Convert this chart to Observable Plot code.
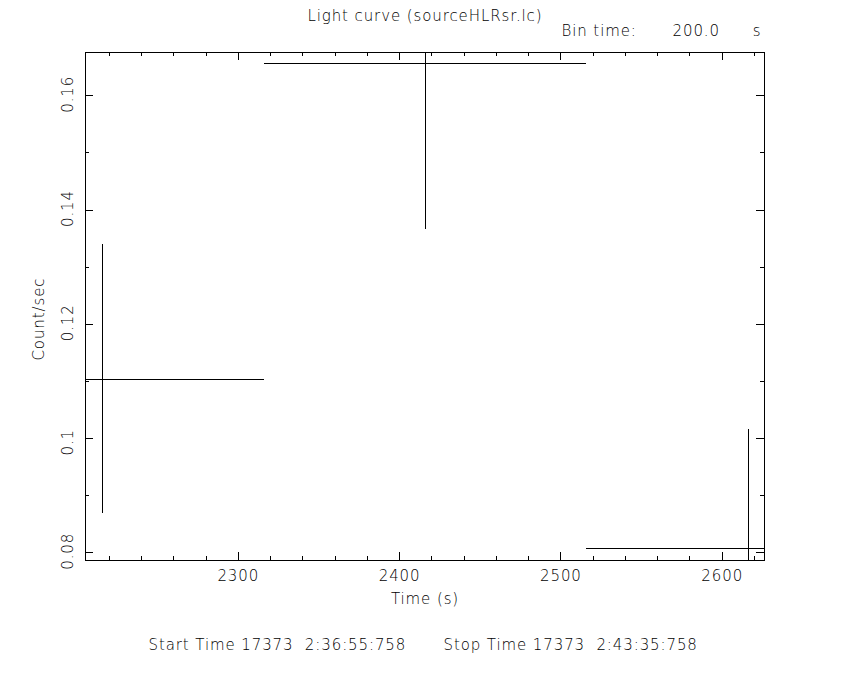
<!DOCTYPE html>
<html>
<head>
<meta charset="utf-8">
<script src="https://cdn.jsdelivr.net/npm/d3@7"></script>
<script src="https://cdn.jsdelivr.net/npm/@observablehq/plot@0.6"></script>
<style>
  html, body { margin: 0; padding: 0; background: #fff; }
  svg text { white-space: pre; }
</style>
</head>
<body>
<div id="chart"></div>
<script>
// ---- data ----
const binTime = [2216, 2416, 2616];        // bin centres (s)
const rate = [0.1104, 0.1656, 0.0807];     // count/sec
const rateErr = [0.0235, 0.0290, 0.0209];  // 1-sigma errors
const binHalfWidth = 100;                  // bin time 200.0 s

const xMajor = [2300, 2400, 2500, 2600];
const xMajorLabels = ["2300", "2400", "2500", "2600"];
const xMinor = [2220, 2240, 2260, 2280, 2320, 2340, 2360, 2380, 2420, 2440, 2460, 2480, 2520, 2540, 2560, 2580, 2620];
const yMajor = [0.08, 0.10, 0.12, 0.14, 0.16];
const yMajorLabels = ["0.08", "0.1", "0.12", "0.14", "0.16"];
const yMinor = [0.09, 0.11, 0.13, 0.15];

const xDomain = [2205.3, 2626.2];
const yDomain = [0.07865, 0.16758];

const title = "Light curve (sourceHLRsr.lc)";
const xLabel = "Time (s)";
const yLabel = "Count/sec";
const binLabel = ["Bin time:", "200.0", "s"];
const footer = ["Start Time 17373  2:36:55:758", "Stop Time 17373  2:43:35:758"];

const bins = binTime.map((t, i) => ({t, r: rate[i], e: rateErr[i]}));

// ---- layout ----
const W = 850, H = 680;
const mL = 85, mR = 86, mT = 52, mB = 120;
const innerW = W - mL - mR, innerH = H - mT - mB;
const major = 8, minor = 4;

const line = {stroke: "black", strokeWidth: 1, shapeRendering: "crispEdges"};

const chart = Plot.plot({
  width: W, height: H,
  marginLeft: mL, marginRight: mR, marginTop: mT, marginBottom: mB,
  style: {fontFamily: "'DejaVu Sans', sans-serif", fontSize: "15px", fontWeight: 300, letterSpacing: "0.9px", color: "black", background: "white"},
  x: {domain: xDomain, axis: null},
  y: {domain: yDomain, axis: null},
  marks: [
    // data: bin-width bars and error bars
    Plot.ruleY(bins, {y: "r", x1: d => d.t - binHalfWidth, x2: d => d.t + binHalfWidth, ...line, clip: true}),
    Plot.ruleX(bins, {x: "t", y1: d => d.r - d.e, y2: d => d.r + d.e, ...line, clip: true}),
    // inward ticks, bottom & top
    Plot.tickX(xMajor, {x: d => d, insetTop: innerH - major, ...line}),
    Plot.tickX(xMinor, {x: d => d, insetTop: innerH - minor, ...line}),
    Plot.tickX(xMajor, {x: d => d, insetBottom: innerH - major, ...line}),
    Plot.tickX(xMinor, {x: d => d, insetBottom: innerH - minor, ...line}),
    // inward ticks, left & right
    Plot.tickY(yMajor, {y: d => d, insetRight: innerW - major, ...line}),
    Plot.tickY(yMinor, {y: d => d, insetRight: innerW - minor, ...line}),
    Plot.tickY(yMajor, {y: d => d, insetLeft: innerW - major, ...line}),
    Plot.tickY(yMinor, {y: d => d, insetLeft: innerW - minor, ...line}),
    Plot.frame({...line}),
    // tick labels
    Plot.text(xMajor, {x: d => d, text: (d, i) => xMajorLabels[i], frameAnchor: "bottom", dy: 16, lineAnchor: "middle", fill: "black"}),
    Plot.text(yMajor, {y: d => d, text: (d, i) => yMajorLabels[i], frameAnchor: "left", dx: -17, dy: 17, rotate: -90, lineAnchor: "middle", fill: "black"}),
    // axis labels
    Plot.text([xLabel], {text: d => d, frameAnchor: "bottom", dy: 39, lineAnchor: "middle", fill: "black"}),
    Plot.text([yLabel], {text: d => d, frameAnchor: "left", dx: -46, dy: 54, rotate: -90, lineAnchor: "middle", fill: "black"}),
    // title and bin time
    Plot.text([title], {text: d => d, frameAnchor: "top", dy: -36, lineAnchor: "middle", fill: "black"}),
    Plot.text([binLabel[0]], {text: d => d, frameAnchor: "top-right", dx: -203, dy: -21, textAnchor: "start", lineAnchor: "middle", fill: "black"}),
    Plot.text([binLabel[1]], {text: d => d, frameAnchor: "top-right", dx: -92, dy: -21, textAnchor: "start", lineAnchor: "middle", fill: "black"}),
    Plot.text([binLabel[2]], {text: d => d, frameAnchor: "top-right", dx: -3, dy: -21, textAnchor: "end", lineAnchor: "middle", fill: "black"}),
    // footer
    Plot.text([footer[0]], {text: d => d, frameAnchor: "bottom-left", dx: 63, dy: 85, textAnchor: "start", lineAnchor: "middle", fill: "black"}),
    Plot.text([footer[1]], {text: d => d, frameAnchor: "bottom-left", dx: 358, dy: 85, textAnchor: "start", lineAnchor: "middle", fill: "black"})
  ]
});
document.getElementById("chart").appendChild(chart);
</script>
</body>
</html>
